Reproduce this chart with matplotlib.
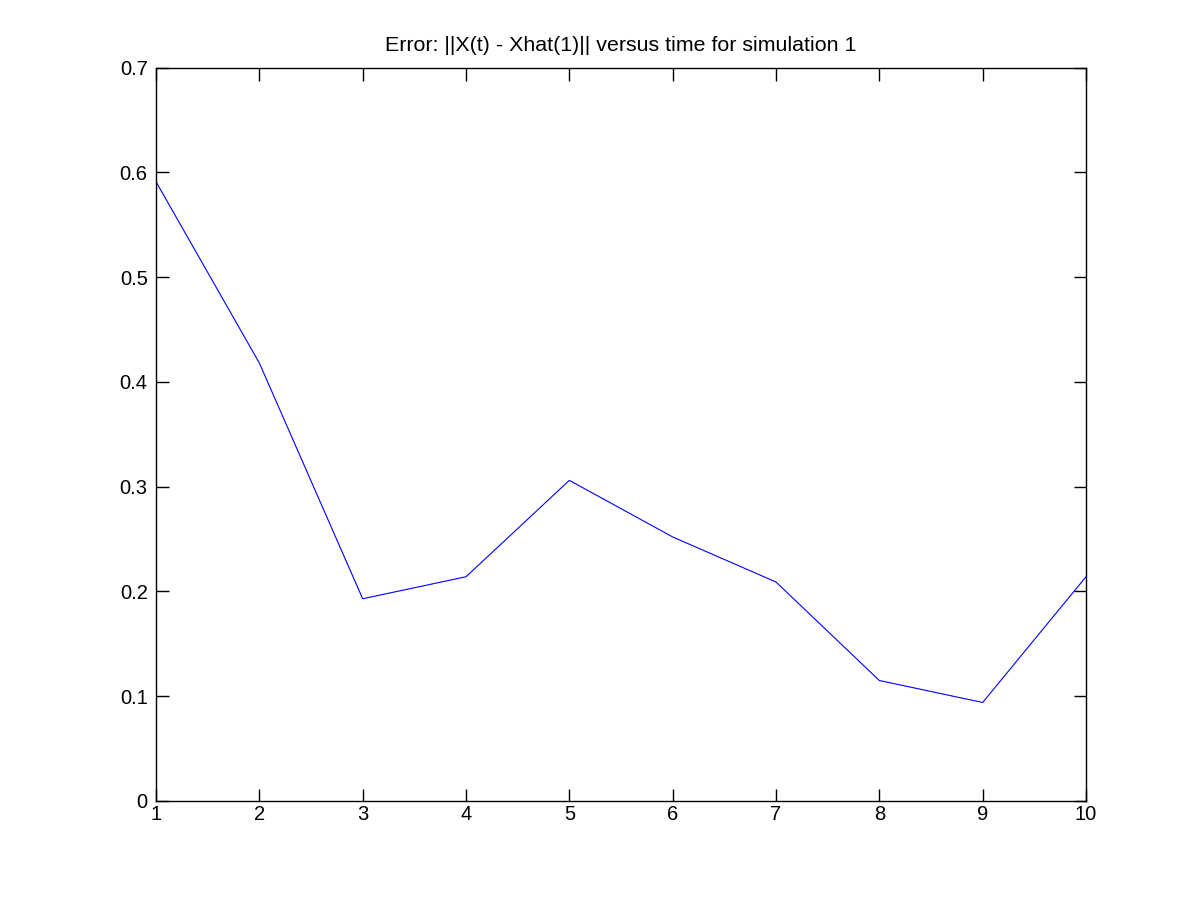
import matplotlib
matplotlib.use("Agg")
import matplotlib.pyplot as plt

# error norm per time step
time_steps = [1, 2, 3, 4, 5, 6, 7, 8, 9, 10]
error_norm = [0.591, 0.418, 0.193, 0.214, 0.306, 0.252, 0.209, 0.115, 0.094, 0.214]
y_ticks = [0, 0.1, 0.2, 0.3, 0.4, 0.5, 0.6, 0.7]
y_tick_labels = ["0", "0.1", "0.2", "0.3", "0.4", "0.5", "0.6", "0.7"]

plt.rcParams["font.family"] = ["Liberation Sans", "DejaVu Sans"]

fig = plt.figure(figsize=(12, 9), dpi=100)
ax = fig.add_axes([0.13, 0.11, 0.775, 0.815])
ax.plot(time_steps, error_norm, color="blue", linewidth=0.8)

ax.set_xlim(1, 10)
ax.set_ylim(0, 0.7)
ax.set_xticks(time_steps)
ax.set_yticks(y_ticks)
ax.set_yticklabels(y_tick_labels)
ax.tick_params(direction="in", top=True, right=True, length=9, width=1,
               labelsize=14.5)
ax.tick_params(axis="x", pad=3)
ax.tick_params(axis="y", pad=6)
for spine in ax.spines.values():
    spine.set_linewidth(1)
ax.set_title("Error: ||X(t) - Xhat(1)|| versus time for simulation 1",
             fontsize=15.4, pad=12)

fig.savefig("out.png", dpi=100)
